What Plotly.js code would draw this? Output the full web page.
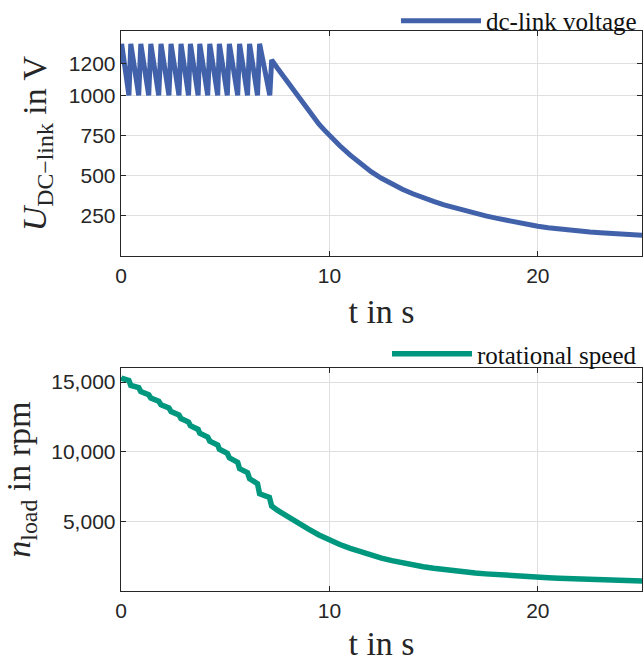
<!DOCTYPE html>
<html>
<head>
<meta charset="utf-8">
<script src="https://cdn.plot.ly/plotly-3.0.1.min.js"></script>
<style>html,body{margin:0;padding:0;background:#fff;}#plot{width:643px;height:662px;}</style>
</head>
<body>
<div id="plot"></div>
<script>
// dc-link voltage: sawtooth phase
var sawTime = [0, 0.03, 0.38, 0.47, 0.85, 0.95, 1.33, 1.43, 1.81, 1.92, 2.30, 2.40, 2.78, 2.88, 3.24, 3.33, 3.70, 3.78, 4.16, 4.26, 4.64, 4.72, 5.10, 5.20, 5.60, 5.69, 6.07, 6.17, 6.55, 6.65, 7.14];
var sawVolt = [1200, 1320, 1000, 1320, 1000, 1320, 1000, 1320, 1000, 1320, 1000, 1320, 1000, 1320, 1000, 1320, 1000, 1320, 1000, 1320, 1000, 1320, 1000, 1320, 1000, 1320, 1000, 1320, 1000, 1320, 1000];
// dc-link voltage: decay phase
var decayTime = [7.23, 7.5, 7.75, 8.0, 8.25, 8.5, 8.75, 9.0, 9.25, 9.5, 9.75, 10, 10.5, 11, 11.5, 12, 12.5, 13, 13.5, 14, 14.5, 15, 15.5, 16, 16.5, 17, 17.5, 18, 18.5, 19, 19.5, 20, 20.5, 21, 21.5, 22, 22.5, 23, 23.5, 24, 24.5, 25];
var decayVolt = [1220, 1170, 1125, 1080, 1035, 990, 945, 902, 860, 820, 785, 750, 686, 628, 574, 525, 484, 448, 416, 388, 362, 340, 319, 300, 282, 266, 250, 236, 222, 209, 197, 186, 176, 168, 161, 155, 150, 145, 141, 137, 133, 130];

// rotational speed: staircase phase
var stepTime = [0, 0.02, 0.38, 0.47, 0.85, 0.95, 1.33, 1.43, 1.81, 1.92, 2.30, 2.40, 2.78, 2.88, 3.24, 3.33, 3.70, 3.78, 4.16, 4.26, 4.64, 4.72, 5.10, 5.20, 5.60, 5.69, 6.07, 6.17, 6.55, 6.65, 7.12];
var stepSpeed = [15300, 15280, 15110, 14760, 14600, 14320, 14090, 13850, 13620, 13370, 13140, 12880, 12640, 12380, 12130, 11860, 11600, 11320, 11050, 10760, 10480, 10180, 9880, 9560, 9240, 8780, 8500, 8060, 7700, 6980, 6720];
// rotational speed: smooth decay phase
var smoothTime = [7.23, 7.5, 7.75, 8, 8.5, 9, 9.5, 10, 10.5, 11, 11.5, 12, 12.5, 13, 13.5, 14, 14.5, 15, 15.5, 16, 16.5, 17, 17.5, 18, 18.5, 19, 19.5, 20, 20.5, 21, 21.5, 22, 22.5, 23, 23.5, 24, 24.5, 25];
var smoothSpeed = [6100, 5800, 5560, 5340, 4880, 4440, 4020, 3660, 3340, 3060, 2800, 2570, 2360, 2180, 2010, 1870, 1740, 1630, 1530, 1440, 1360, 1290, 1230, 1170, 1120, 1070, 1030, 990, 955, 920, 890, 860, 830, 800, 775, 750, 730, 710];

var xTicks = [0, 10, 20];
var vTicks = [250, 500, 750, 1000, 1200];
var nTicks = [5000, 10000, 15000];

var blue = '#4162aa';
var teal = '#00977f';
var axisColor = '#262626';
var gridColor = '#dfdfdf';
var serif = 'Liberation Serif, Times New Roman, serif';
var sans = 'Liberation Sans, Arial, sans-serif';

var traces = [
  {x: sawTime.concat(decayTime), y: sawVolt.concat(decayVolt), type: 'scatter', mode: 'lines',
   name: 'dc-link voltage', line: {color: blue, width: 5}, xaxis: 'x', yaxis: 'y', legend: 'legend'},
  {x: stepTime.concat(smoothTime), y: stepSpeed.concat(smoothSpeed), type: 'scatter', mode: 'lines',
   name: 'rotational speed', line: {color: teal, width: 5.5}, xaxis: 'x2', yaxis: 'y2', legend: 'legend2'}
];

function xax(anchor) {
  return {range: [0, 25], tickvals: xTicks, ticks: 'inside', ticklen: 5, tickcolor: axisColor,
    showline: true, linecolor: axisColor, linewidth: 1.3, mirror: 'ticks', showgrid: true,
    gridcolor: gridColor, gridwidth: 1, zeroline: false, anchor: anchor,
    tickfont: {family: sans, size: 21, color: axisColor},
    title: {text: 't in s', font: {family: serif, size: 34, color: axisColor}, standoff: 13}};
}
function yax(anchor, range, ticks, fmt, title, domain) {
  return {range: range, tickvals: ticks, tickformat: fmt, ticks: 'inside', ticklen: 5, tickcolor: axisColor,
    showline: true, linecolor: axisColor, linewidth: 1.3, mirror: 'ticks', showgrid: true,
    gridcolor: gridColor, gridwidth: 1, zeroline: false, anchor: anchor, domain: domain,
    tickfont: {family: sans, size: 21, color: axisColor},
    title: {text: title, font: {family: serif, size: 34, color: axisColor}, standoff: 12}};
}

var xa1 = xax('y'); xa1.domain = [0, 1];
var xa2 = xax('y2'); xa2.domain = [0, 1];

var layout = {
  width: 643, height: 662,
  margin: {l: 121, r: 1, t: 31, b: 71, autoexpand: false},
  paper_bgcolor: '#fff', plot_bgcolor: '#fff',
  showlegend: true,
  xaxis: xa1,
  yaxis: yax('x', [0, 1400], vTicks, 'd', '<i>U</i><sub>DC\u2212link</sub> in V', [0.598, 1]),
  xaxis2: xa2,
  yaxis2: yax('x2', [0, 16000], nTicks, ',d', '<i>n</i><sub>load</sub> in rpm', [0, 0.398]),
  legend: {x: 1, xanchor: 'right', y: 1.018, yanchor: 'middle', bgcolor: 'rgba(0,0,0,0)',
    font: {family: serif, size: 25, color: '#111'}, itemwidth: 80, tracegroupgap: 0},
  legend2: {x: 1, xanchor: 'right', y: 0.423, yanchor: 'middle', bgcolor: 'rgba(0,0,0,0)',
    font: {family: serif, size: 25, color: '#111'}, itemwidth: 80, tracegroupgap: 0}
};

Plotly.newPlot('plot', traces, layout, {displayModeBar: false, staticPlot: true});
</script>
</body>
</html>
